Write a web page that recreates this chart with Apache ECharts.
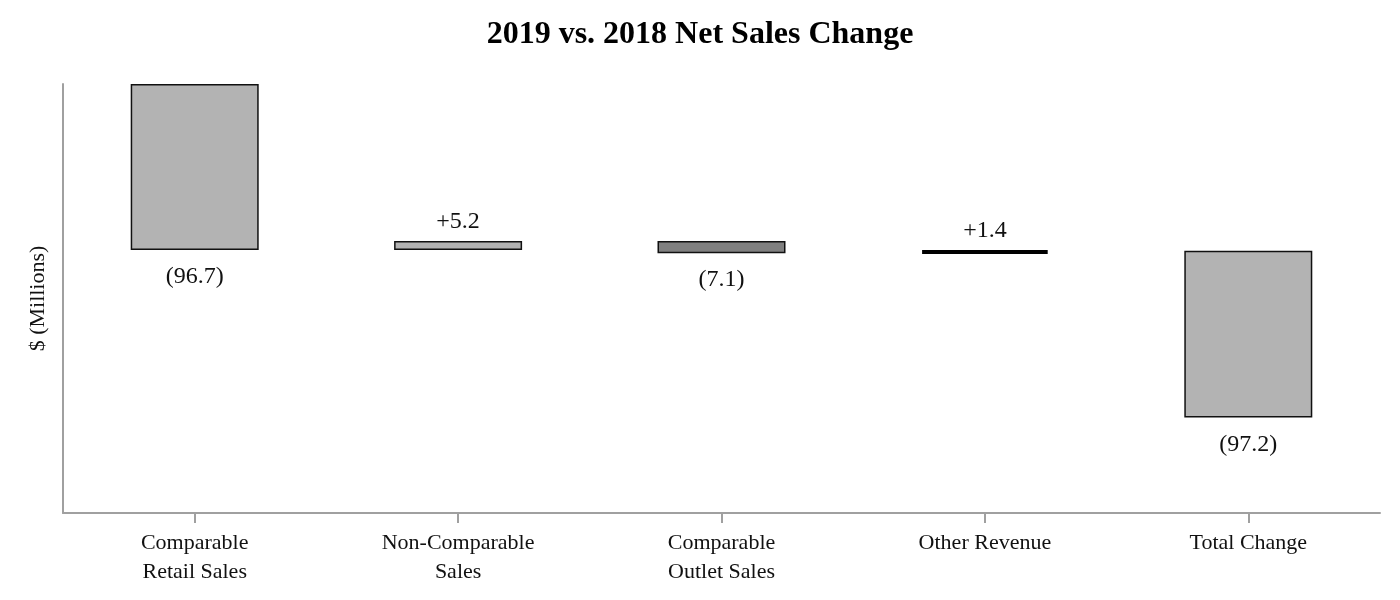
<!DOCTYPE html>
<html>
<head>
<meta charset="utf-8">
<script src="https://cdn.jsdelivr.net/npm/echarts@6/dist/echarts.min.js"></script>
<style>
  html, body { margin: 0; padding: 0; background: #fff; }
  #chart { width: 1400px; height: 600px; }
</style>
</head>
<body>
<div id="chart"></div>
<script>
// ---- data ----
var categories = ['Comparable\nRetail Sales', 'Non-Comparable\nSales', 'Comparable\nOutlet Sales', 'Other Revenue', 'Total Change'];
var changes = [-96.7, 5.2, -7.1, 1.4, -97.2];
var valueLabels = ['(96.7)', '+5.2', '(7.1)', '+1.4', '(97.2)'];

// ---- styles (kept apart from data) ----
var fillColors = ['#b3b3b3', '#b3b3b3', '#808080', '#000000', '#b3b3b3'];
var borderWidths = [1.5, 1.5, 1.5, 4, 1.5];
var FONT = '"Liberation Serif", "Times New Roman", serif';

// ---- waterfall geometry from data ----
var placeholder = [], visible = [];
var running = 0;
for (var i = 0; i < changes.length; i++) {
  var start = running;
  var end = running + changes[i];
  if (i < changes.length - 1) running = end;
  var hi = Math.max(start, end), lo = Math.min(start, end);
  placeholder.push(hi);
  visible.push({
    value: lo - hi,
    itemStyle: {
      color: fillColors[i],
      borderColor: i === 3 ? '#000' : '#111',
      borderWidth: borderWidths[i]
    },
    label: {
      show: true,
      position: changes[i] > 0 ? 'top' : 'bottom',
      distance: changes[i] > 0 ? 7 : 15,
      formatter: valueLabels[i]
    }
  });
}

var chart = echarts.init(document.getElementById('chart'));
chart.setOption({
  animation: false,
  backgroundColor: '#fff',
  title: {
    text: '2019 vs. 2018 Net Sales Change',
    left: 'center',
    top: 14,
    textStyle: { fontFamily: FONT, fontWeight: 'bold', fontSize: 32, color: '#000' }
  },
  grid: { left: 63, right: 20, top: 84, bottom: 87, containLabel: false },
  xAxis: {
    type: 'category',
    data: categories,
    axisLine: { show: true, onZero: false, lineStyle: { color: '#a0a0a0', width: 2 } },
    axisTick: { show: true, alignWithLabel: true, length: 10, lineStyle: { color: '#a0a0a0', width: 2 } },
    axisLabel: { fontFamily: FONT, fontSize: 22, color: '#111', margin: 16, lineHeight: 29 },
    splitLine: { show: false }
  },
  yAxis: {
    type: 'value',
    min: -250,
    max: 0,
    name: '$ (Millions)',
    nameLocation: 'middle',
    nameGap: 14,
    nameTextStyle: { fontFamily: FONT, fontSize: 22, color: '#111' },
    axisLine: { show: true, lineStyle: { color: '#a0a0a0', width: 2 } },
    axisTick: { show: false },
    axisLabel: { show: false },
    splitLine: { show: false }
  },
  series: [
    {
      type: 'bar',
      stack: 'wf',
      data: placeholder,
      barWidth: 128,
      itemStyle: { color: 'transparent', borderColor: 'transparent' },
      emphasis: { disabled: true },
      silent: true
    },
    {
      type: 'bar',
      stack: 'wf',
      data: visible,
      barWidth: 128,
      label: { fontFamily: FONT, fontSize: 24, color: '#111' }
    }
  ]
});
</script>
</body>
</html>
